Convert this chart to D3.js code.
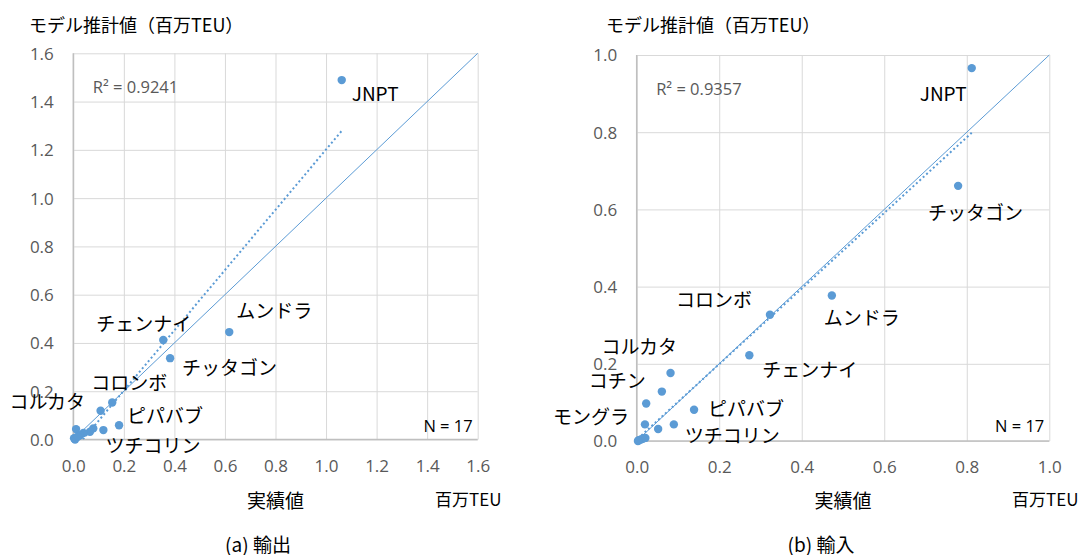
<!DOCTYPE html>
<html>
<head>
<meta charset="utf-8">
<script src="https://cdn.jsdelivr.net/npm/d3@7"></script>
<style>
  body { margin: 0; background: #fff; }
  svg { display: block; }
</style>
</head>
<body>
<svg id="chart" width="1083" height="555"></svg>
<script>
// (a) 輸出 — 港湾別 実績値 vs モデル推計値（百万TEU）
const exportPorts  = ["JNPT", "ムンドラ", "チェンナイ", "チッタゴン", "コロンボ", "コルカタ", "ピパバブ", "ツチコリン", "", "", "", "", "", "", "", "", ""];
const exportActual = [1.062, 0.617, 0.356, 0.383, 0.154, 0.108, 0.181, 0.119, 0.079, 0.066, 0.011, 0.040, 0.026, 0.007, 0.003, 0.012, 0.018];
const exportModel  = [1.489, 0.445, 0.412, 0.337, 0.153, 0.119, 0.059, 0.039, 0.046, 0.032, 0.043, 0.027, 0.018, 0.000, 0.005, 0.008, 0.012];
const exportTicks  = [0, 0.2, 0.4, 0.6, 0.8, 1.0, 1.2, 1.4, 1.6];
const exportR2     = "R² = 0.9241";

// (b) 輸入
const importPorts  = ["JNPT", "チッタゴン", "ムンドラ", "コロンボ", "チェンナイ", "コルカタ", "コチン", "", "ピパバブ", "モングラ", "", "ツチコリン", "", "", "", "", ""];
const importActual = [0.812, 0.779, 0.473, 0.323, 0.273, 0.082, 0.061, 0.023, 0.139, 0.020, 0.052, 0.090, 0.005, 0.010, 0.015, 0.021, 0.003];
const importModel  = [0.966, 0.661, 0.377, 0.327, 0.222, 0.176, 0.128, 0.097, 0.081, 0.043, 0.031, 0.043, 0.002, 0.004, 0.006, 0.008, 0.000];
const importTicks  = [0, 0.2, 0.4, 0.6, 0.8, 1.0];
const importR2     = "R² = 0.9357";

const nText      = "N = 17";
const yTitle     = "モデル推計値（百万TEU）";
const xTitle     = "実績値";
const unitText   = "百万TEU";
const captions   = ["(a) 輸出", "(b) 輸入"];

// label placement relative to each point (px)
const exportLabelOffsets = {
  "JNPT": [10, 12], "ムンドラ": [7, -23], "チェンナイ": [-67, -18], "チッタゴン": [12, 8],
  "コロンボ": [-21, -21], "コルカタ": [-91, -10], "ピパバブ": [8, -11], "ツチコリン": [2, 14.5]
};
const importLabelOffsets = {
  "JNPT": [-52, 24], "チッタゴン": [-30, 26], "ムンドラ": [-8, 21], "コロンボ": [-94, -16],
  "チェンナイ": [13, 13.5], "コルカタ": [-69, -28], "コチン": [-73, -12], "モングラ": [-92, -8.5],
  "ピパバブ": [14, -2], "ツチコリン": [11, 10]
};

const BLUE = "#5B9BD5";
const JP = "'Noto Sans CJK JP', 'Noto Sans', sans-serif";
const NUM = "'Open Sans', 'Liberation Sans', sans-serif";

const panels = [
  { id: "exp", ports: exportPorts, xs: exportActual, ys: exportModel, ticks: exportTicks, r2: exportR2,
    offsets: exportLabelOffsets, left: 73.3, right: 477.7, bottom: 439.5, top: 53.3,
    yTitleX: 29, unitX: 435, captionX: 258, caption: captions[0] },
  { id: "imp", ports: importPorts, xs: importActual, ys: importModel, ticks: importTicks, r2: importR2,
    offsets: importLabelOffsets, left: 636.7, right: 1049.3, bottom: 441, top: 55,
    yTitleX: 606, unitX: 1012, captionX: 821, caption: captions[1] }
];

const svg = d3.select("#chart");

panels.forEach(p => {
  const max = p.ticks[p.ticks.length - 1];
  const x = d3.scaleLinear().domain([0, max]).range([p.left, p.right]);
  const y = d3.scaleLinear().domain([0, max]).range([p.bottom, p.top]);
  const w = p.right - p.left, h = p.bottom - p.top;
  const g = svg.append("g");

  // gridlines + tick labels
  const yAxis = g.append("g").attr("transform", `translate(${p.left},0)`)
    .call(d3.axisLeft(y).tickValues(p.ticks).tickSize(-w).tickPadding(19.5).tickFormat(d3.format(".1f")));
  const xAxis = g.append("g").attr("transform", `translate(0,${p.bottom})`)
    .call(d3.axisBottom(x).tickValues(p.ticks).tickSize(-h).tickPadding(20).tickFormat(d3.format(".1f")));
  [yAxis, xAxis].forEach(a => {
    a.select(".domain").remove();
    a.selectAll(".tick line").attr("stroke", "#D9D9D9").attr("stroke-width", 1);
    a.selectAll(".tick text").attr("fill", "#595959").style("font-family", NUM).style("font-size", "17px");
  });
  yAxis.selectAll(".tick text").attr("dy", "0.35em");

  // axis lines
  g.append("line").attr("x1", p.left).attr("x2", p.left).attr("y1", p.top).attr("y2", p.bottom)
    .attr("stroke", "#BFBFBF").attr("stroke-width", 1.5);
  g.append("line").attr("x1", p.left).attr("x2", p.right).attr("y1", p.bottom).attr("y2", p.bottom)
    .attr("stroke", "#BFBFBF").attr("stroke-width", 1.5);

  // clip for lines
  svg.append("clipPath").attr("id", "clip-" + p.id)
    .append("rect").attr("x", p.left).attr("y", p.top).attr("width", w).attr("height", h);

  // 45° reference line (実績値 = 推計値)
  g.append("line")
    .attr("x1", x(0)).attr("y1", y(0)).attr("x2", x(max)).attr("y2", y(max))
    .attr("stroke", BLUE).attr("stroke-width", 1);

  // linear trendline (least squares)
  const mx = d3.mean(p.xs), my = d3.mean(p.ys);
  const sxy = d3.sum(p.xs, (v, i) => (v - mx) * (p.ys[i] - my));
  const sxx = d3.sum(p.xs, v => (v - mx) * (v - mx));
  const slope = sxy / sxx, icpt = my - slope * mx;
  const [xmin, xmax] = d3.extent(p.xs);
  g.append("line")
    .attr("clip-path", `url(#clip-${p.id})`)
    .attr("x1", x(xmin)).attr("y1", y(slope * xmin + icpt))
    .attr("x2", x(xmax)).attr("y2", y(slope * xmax + icpt))
    .attr("stroke", BLUE).attr("stroke-width", 2).attr("stroke-dasharray", "2,2.6");

  // points
  g.selectAll("circle").data(p.xs.map((v, i) => ({ x: v, y: p.ys[i], name: p.ports[i] })))
    .join("circle")
    .attr("cx", d => x(d.x)).attr("cy", d => y(d.y)).attr("r", 4.2)
    .attr("fill", BLUE);

  // port labels
  g.selectAll("text.port").data(p.xs.map((v, i) => ({ x: v, y: p.ys[i], name: p.ports[i] })).filter(d => d.name))
    .join("text").attr("class", "port")
    .attr("x", d => x(d.x) + p.offsets[d.name][0])
    .attr("y", d => y(d.y) + p.offsets[d.name][1])
    .attr("dominant-baseline", "central")
    .style("font-family", JP).style("font-size", "19px").attr("fill", "#000")
    .text(d => d.name);

  // R² and N
  g.append("text").attr("x", p.left + 19.5).attr("y", p.top + 33).attr("dominant-baseline", "central")
    .style("font-family", NUM).style("font-size", "16.5px").attr("fill", "#595959").text(p.r2);
  g.append("text").attr("x", p.right - 5).attr("y", 425).attr("text-anchor", "end").attr("dominant-baseline", "central")
    .style("font-family", NUM).style("font-size", "16.5px").attr("fill", "#000").text(nText);

  // titles
  g.append("text").attr("x", p.yTitleX).attr("y", 24).attr("dominant-baseline", "central")
    .style("font-family", JP).style("font-size", "18px").attr("fill", "#000").text(yTitle);
  g.append("text").attr("x", (p.left + p.right) / 2).attr("y", 499).attr("text-anchor", "middle")
    .attr("dominant-baseline", "central")
    .style("font-family", JP).style("font-size", "19px").attr("fill", "#000").text(xTitle);
  g.append("text").attr("x", p.unitX).attr("y", 498).attr("dominant-baseline", "central")
    .style("font-family", JP).style("font-size", "17px").attr("fill", "#000").text(unitText);
  g.append("text").attr("x", p.captionX).attr("y", 543).attr("text-anchor", "middle")
    .attr("dominant-baseline", "central")
    .style("font-family", JP).style("font-size", "19px").attr("fill", "#000").text(p.caption);
});
</script>
</body>
</html>
